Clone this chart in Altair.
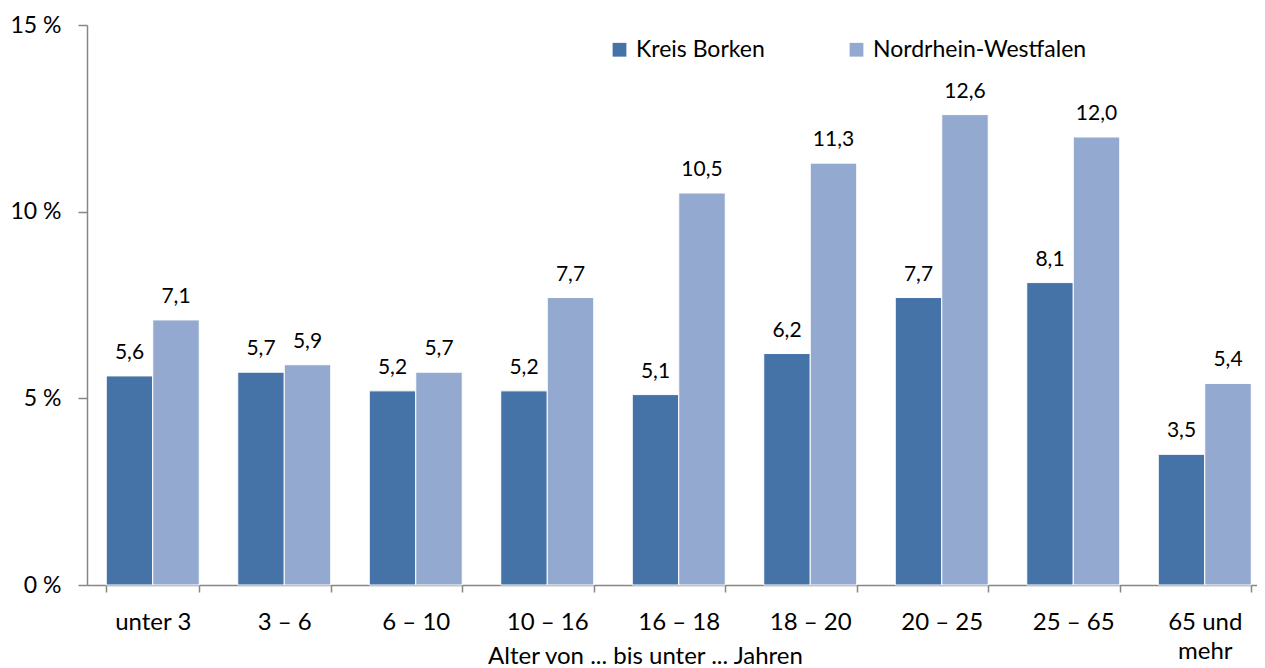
import altair as alt
import pandas as pd

categories = ["unter 3", "3 –  6", "6 – 10", "10 – 16", "16 – 18", "18 – 20", "20 – 25", "25 – 65", "65 und mehr"]
series = ["Kreis Borken", "Nordrhein-Westfalen"]
borken = [5.6, 5.7, 5.2, 5.2, 5.1, 6.2, 7.7, 8.1, 3.5]
nrw = [7.1, 5.9, 5.7, 7.7, 10.5, 11.3, 12.6, 12.0, 5.4]
y_ticks = [0, 5, 10, 15]
colors = ["#4572A7", "#94A9CF"]

rows = []
for c, b, n in zip(categories, borken, nrw):
    rows.append({"cat": c, "series": series[0], "value": b, "label": f"{b:.1f}".replace(".", ",")})
    rows.append({"cat": c, "series": series[1], "value": n, "label": f"{n:.1f}".replace(".", ",")})
df = pd.DataFrame(rows)

FONT = "Lato"

x_scale = alt.Scale(paddingInner=0.293, paddingOuter=0.1465, range=[0, 1183.5])
y_scale = alt.Scale(domain=[0, 15], nice=False)

x_enc = alt.X(
    "cat:N",
    sort=categories,
    scale=x_scale,
    axis=alt.Axis(
        title="Alter von ... bis unter ... Jahren",
        labelAngle=0,
        tickBand="extent",
        tickSize=7,
        tickColor="#868686",
        tickWidth=1.5,
        domainColor="#868686",
        domainWidth=1.5,
        labelPadding=18,
        labelFont=FONT,
        labelFontSize=24,
        labelColor="#000000",
        labelLineHeight=29,
        labelExpr="datum.label == '65 und mehr' ? ['65 und', 'mehr'] : datum.label",
        titleFont=FONT,
        titleFontSize=24,
        titleFontWeight="normal",
        titleColor="#000000",
        titleX=558,
        titleY=78,
        titleBaseline="alphabetic",
    ),
)
xoff = alt.XOffset("series:N", sort=series, scale=alt.Scale(paddingInner=0.0))
y_enc = alt.Y(
    "value:Q",
    scale=y_scale,
    axis=alt.Axis(
        title=None,
        values=y_ticks,
        labelExpr="datum.value + ' %'",
        grid=False,
        tickSize=9,
        tickColor="#868686",
        tickWidth=1.5,
        domainColor="#868686",
        domainWidth=1.5,
        labelPadding=17,
        labelFont=FONT,
        labelFontSize=23,
        labelColor="#000000",
    ),
)

bars = alt.Chart(df).mark_bar(stroke="white", strokeWidth=1).encode(
    x=x_enc,
    xOffset=xoff,
    y=y_enc,
    color=alt.Color(
        "series:N",
        sort=series,
        scale=alt.Scale(domain=series, range=colors),
        legend=alt.Legend(
            title=None,
            orient="none",
            direction="horizontal",
            legendX=521,
            legendY=13,
            symbolType="square",
            symbolSize=190,
            symbolStrokeWidth=0,
            labelFont=FONT,
            labelFontSize=23,
            labelColor="#000000",
            labelOffset=5,
            labelLimit=400,
            columnPadding=80,
            padding=0,
        ),
    ),
)

labels = alt.Chart(df).mark_text(
    font=FONT, fontSize=21, color="#000000", baseline="bottom", dy=-13
).encode(
    x=alt.X("cat:N", sort=categories, scale=x_scale),
    xOffset=xoff,
    y=alt.Y("value:Q", scale=y_scale),
    text="label:N",
)

chart = (
    alt.layer(bars, labels)
    .properties(
        width=1170,
        height=560,
        autosize=alt.AutoSizeParams(type="none"),
        padding={"left": 79, "top": 17, "right": 0, "bottom": 88},
    )
    .configure_view(stroke=None)
)

chart.save("out.html", embed_options={"renderer": "svg", "actions": False})
